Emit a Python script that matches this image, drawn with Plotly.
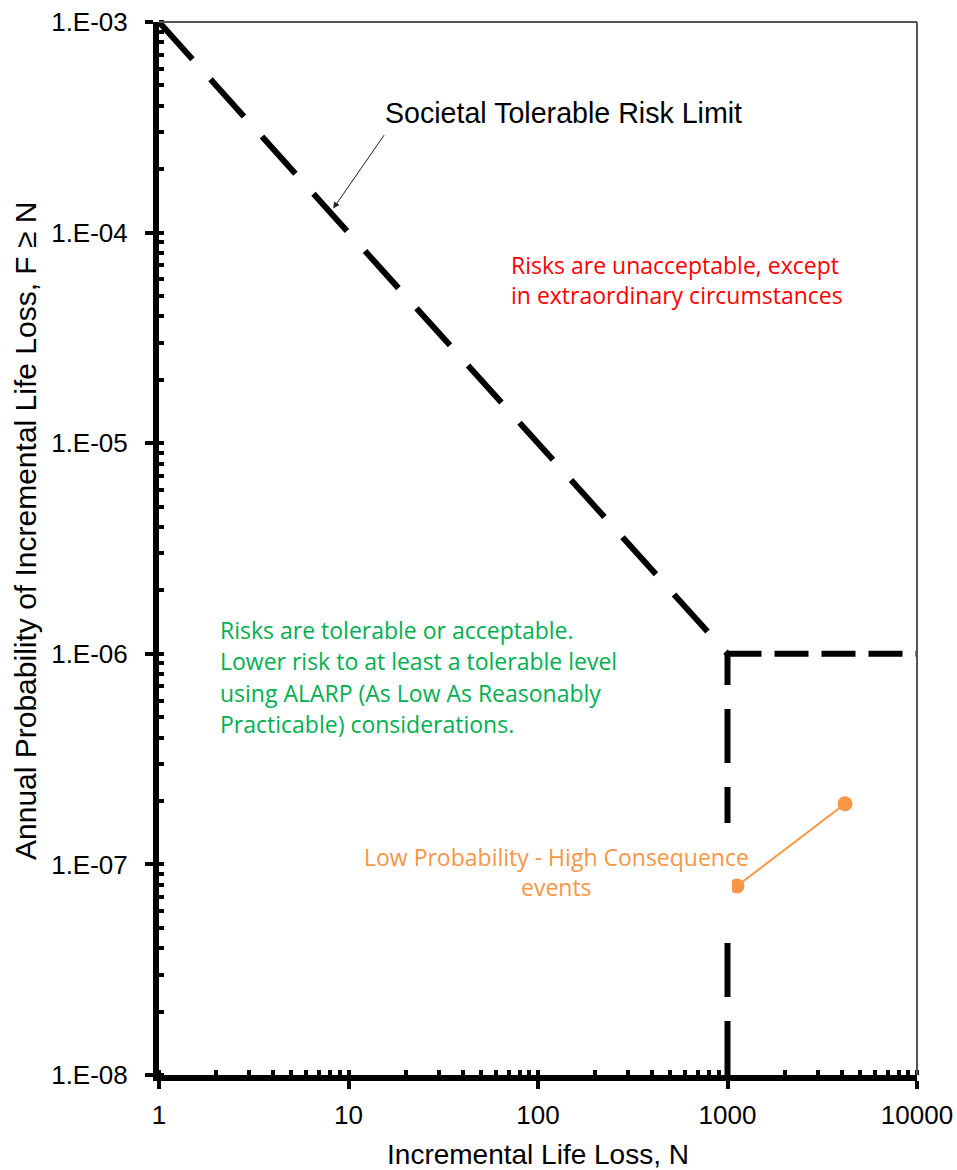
import math
import plotly.graph_objects as go

# ---- data ----
limit_N = [1, 1000]
limit_F = [1e-3, 1e-6]
flat_N = [1000, 10000]
flat_F = [1e-6, 1e-6]
vert_N = [1000, 1000]
vert_F = [1e-8, 1e-6]
event_N = [1122, 4170]
event_F = [7.9e-8, 1.94e-7]

x_tickvals = [1, 10, 100, 1000, 10000]
x_ticktext = ["1", "10", "100", "1000", "10000"]
y_tickvals = [1e-8, 1e-7, 1e-6, 1e-5, 1e-4, 1e-3]
y_ticktext = ["1.E-08", "1.E-07", "1.E-06", "1.E-05", "1.E-04", "1.E-03"]

red_lines = ["Risks are unacceptable, except", "in extraordinary circumstances"]
green_lines = ["Risks are tolerable or acceptable.",
               "Lower risk to at least a tolerable level",
               "using ALARP (As Low As Reasonably",
               "Practicable) considerations."]
orange_lines = ["Low Probability - High Consequence", "events"]

# ---- layout geometry ----
W, H = 957, 1170
L, R, T, B = 159, 917, 22, 1075

def px(xp):
    return (xp - L) / (R - L)

def py(yp):
    return (B - yp) / (B - T)

fig = go.Figure()
fig.add_trace(go.Scatter(x=limit_N, y=limit_F, mode="lines",
                         line=dict(color="black", width=6, dash="50px,27px"),
                         showlegend=False, hoverinfo="skip"))
fig.add_trace(go.Scatter(x=flat_N, y=flat_F, mode="lines",
                         line=dict(color="black", width=6, dash="34px,13px"),
                         showlegend=False, hoverinfo="skip"))
fig.add_trace(go.Scatter(x=vert_N, y=vert_F, mode="lines",
                         line=dict(color="black", width=6, dash="54px,24px"),
                         showlegend=False, hoverinfo="skip"))

annotations = []
# white mask (text box of the orange label in the original)
annotations.append(dict(xref="paper", yref="paper", x=px(731.5), y=py(871),
                        xanchor="right", yanchor="middle", text=" ",
                        width=20, height=96, bgcolor="white", showarrow=False,
                        borderpad=0, borderwidth=0))

fig.add_trace(go.Scatter(x=event_N, y=event_F, mode="lines+markers",
                         line=dict(color="#F79646", width=2),
                         marker=dict(color="#F79646", size=15),
                         showlegend=False, hoverinfo="skip"))

AX_FONT = "Liberation Sans, Arial, sans-serif"
TXT_FONT = "Open Sans, Lato, Calibri, sans-serif"
TXT_SIZE = 23

annotations.append(dict(xref="paper", yref="paper", x=px(383), y=py(113),
                        xanchor="left", yanchor="middle",
                        text="Societal Tolerable Risk Limit", showarrow=False,
                        font=dict(family=AX_FONT, size=28.6, color="black")))
annotations.append(dict(xref="x", yref="y", x=math.log10(8.3), y=math.log10(1.3e-4),
                        ax=52, ay=-75, text="", showarrow=True,
                        arrowhead=2, arrowsize=1.3, arrowwidth=1, arrowcolor="#222"))

# y-axis title
annotations.append(dict(xref="paper", yref="paper", x=px(25), y=py(531),
                        xanchor="center", yanchor="middle", textangle=-90,
                        text="Annual Probability of Incremental Life Loss, F \u2265 N",
                        showarrow=False,
                        font=dict(family=AX_FONT, size=30, color="black")))

for i, t in enumerate(red_lines):
    annotations.append(dict(xref="paper", yref="paper", x=px(509), y=py(265 + 30 * i),
                            xanchor="left", yanchor="middle", text=t, showarrow=False,
                            font=dict(family=TXT_FONT, size=TXT_SIZE, color="#FF0000")))
for i, t in enumerate(green_lines):
    annotations.append(dict(xref="paper", yref="paper", x=px(218), y=py(630 + 31.3 * i),
                            xanchor="left", yanchor="middle", text=t, showarrow=False,
                            font=dict(family=TXT_FONT, size=TXT_SIZE, color="#00B050")))
for i, t in enumerate(orange_lines):
    annotations.append(dict(xref="paper", yref="paper", x=px(556), y=py(857 + 30 * i),
                            xanchor="center", yanchor="middle", text=t, showarrow=False,
                            font=dict(family=TXT_FONT, size=TXT_SIZE, color="#F79646")))

shapes = [
    dict(type="line", xref="paper", yref="paper", x0=0, x1=1, y0=1, y1=1,
         line=dict(color="#555555", width=2)),
    dict(type="line", xref="paper", yref="paper", x0=1, x1=1, y0=0, y1=1,
         line=dict(color="#555555", width=2)),
]

fig.update_layout(
    width=W, height=H,
    margin=dict(l=L, r=W - R, t=T, b=H - B),
    paper_bgcolor="white", plot_bgcolor="white",
    annotations=annotations, shapes=shapes,
    font=dict(family=AX_FONT, color="black"),
    xaxis=dict(type="log", range=[0, 4], tickvals=x_tickvals, ticktext=x_ticktext,
               automargin=False,
               showgrid=False, zeroline=False, showline=True, linecolor="black",
               linewidth=6, ticks="outside", ticklen=8, tickwidth=4, tickcolor="black",
               ticklabelstandoff=4,
               tickfont=dict(family=AX_FONT, size=26, color="black"),
               minor=dict(ticks="inside", ticklen=5, tickwidth=4, tickcolor="black",
                          dtick="D1", showgrid=False),
               title=dict(text="Incremental Life Loss, N", standoff=19,
                          font=dict(family=AX_FONT, size=28, color="black"))),
    yaxis=dict(type="log", range=[-8, -3], tickvals=y_tickvals, ticktext=y_ticktext,
               automargin=False,
               showgrid=False, zeroline=False, showline=True, linecolor="black",
               linewidth=6, ticks="outside", ticklen=8, tickwidth=4, tickcolor="black",
               ticklabelstandoff=12,
               tickfont=dict(family=AX_FONT, size=26, color="black"),
               minor=dict(ticks="inside", ticklen=5, tickwidth=4, tickcolor="black",
                          dtick="D1", showgrid=False)),
)

fig.write_html("out.html")
